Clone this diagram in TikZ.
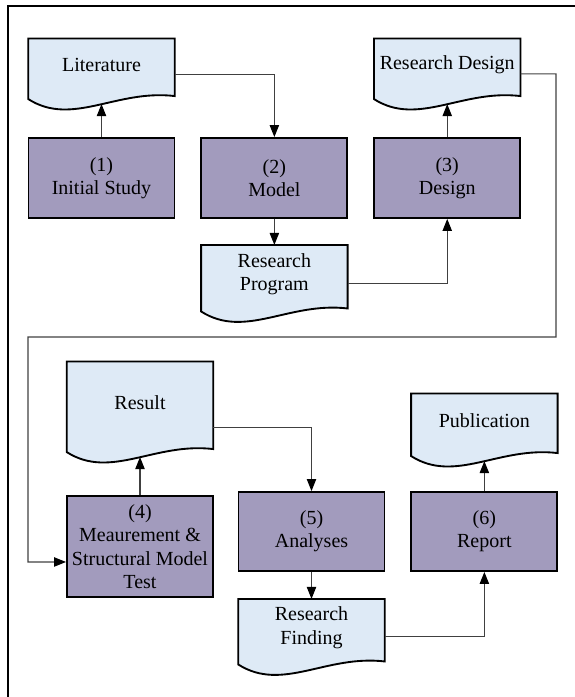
\documentclass[tikz,border=0pt]{standalone}
\usepackage{fontspec}
\setmainfont{Liberation Serif}
\usetikzlibrary{arrows.meta, positioning, calc, backgrounds}
\definecolor{stepfill}{HTML}{A29BBD}
\definecolor{docfill}{HTML}{DEEAF6}
\definecolor{linegray}{HTML}{404040}
\tikzset{
  stepbox/.style={rectangle, draw=black, line width=1.4pt, fill=stepfill, align=center, inner sep=1pt,
                  minimum width=109.5pt, minimum height=60pt, font=\rmfamily\fontsize{15}{17.5}\selectfont},
  docbox/.style ={rectangle, align=center, inner sep=1pt, minimum width=109.5pt, font=\rmfamily\fontsize{15}{17.5}\selectfont},
  docline/.style={draw=black, line width=1.4pt, fill=docfill},
  conn/.style   ={-{Triangle[length=9pt, width=7pt, color=black]}, line width=0.8pt, draw=linegray},
  todoc/.style  ={conn, shorten >=9.75pt},
}

\begin{document}
\begin{tikzpicture}[x=0.75pt, y=-0.75pt]
  \useasboundingbox (0,0) rectangle (575,697);
  \clip (0,0) rectangle (575,697);
  \draw[line width=1.6pt] (8,720) -- (8,6) -- (600,6);

  % first stage
  \node[stepbox] (b1) at (101.5,178) {(1)\\Initial Study};
  \node[stepbox, right=18.75pt of b1] (b2) {(2)\\Model};
  \node[stepbox, right=18.75pt of b2] (b3) {(3)\\Design};
  \node[docbox, minimum height=39pt, above=34.5pt of b1] (lit) {Literature};
  \node[docbox, minimum height=39pt, above=34.5pt of b3] (rd) {Research Design};
  \node[docbox, minimum height=43.5pt, below=19.5pt of b2] (rp) {Research\\Program};

  % second stage
  \node[stepbox, minimum height=75.75pt] (b4) at (140,546.5) {(4)\\Meaurement \&\\Structural Model\\Test};
  \node[stepbox, minimum height=59.25pt] (b5) at (311.5,531.5) {(5)\\Analyses};
  \node[stepbox, minimum height=59.25pt, right=18.75pt of b5] (b6) {(6)\\Report};
  \node[docbox, minimum height=61.5pt, above=38.25pt of b4] (res) {Result};
  \node[docbox, minimum height=42.75pt, below=20.25pt of b5] (rf) {Research\\Finding};
  \node[docbox, minimum height=40.5pt, above=32.25pt of b6] (pub) {Publication};

  \begin{scope}[on background layer]
    \foreach \d in {lit,rd,rp,res,rf,pub}
      \draw[docline] (\d.north west) -- ($(\d.south west)+(0,8)$)
        .. controls ($(\d.south west)!.3!(\d.south east)+(0,36)$) and ($(\d.south west)!.6!(\d.south east)+(0,-2)$)
        .. ($(\d.south east)+(0,5)$) -- (\d.north east) -- cycle;
  \end{scope}

  \coordinate (turnA) at (556,337);
  \coordinate (turnB) at (28,562);

  \draw[todoc] (b1.north) -- (lit.south);
  \draw[conn] ([yshift=-7.5pt]lit.east) -| (b2.north);
  \draw[conn] (b2.south) -- (rp.north);
  \draw[conn] ([yshift=-6.75pt]rp.east) -| (b3.south);
  \draw[todoc] (b3.north) -- (rd.south);
  \draw[conn] ([yshift=-6.75pt]rd.east) -| (turnA) -| (turnB) -- ([yshift=-11.6pt]b4.west);
  \draw[todoc] (b4.north) -- (res.south);
  \draw[conn] ([yshift=-18.75pt]res.east) -| (b5.north);
  \draw[conn] (b5.south) -- (rf.north);
  \draw[conn] ([yshift=-6.4pt]rf.east) -| (b6.south);
  \draw[todoc] (b6.north) -- (pub.south);
\end{tikzpicture}
\end{document}
